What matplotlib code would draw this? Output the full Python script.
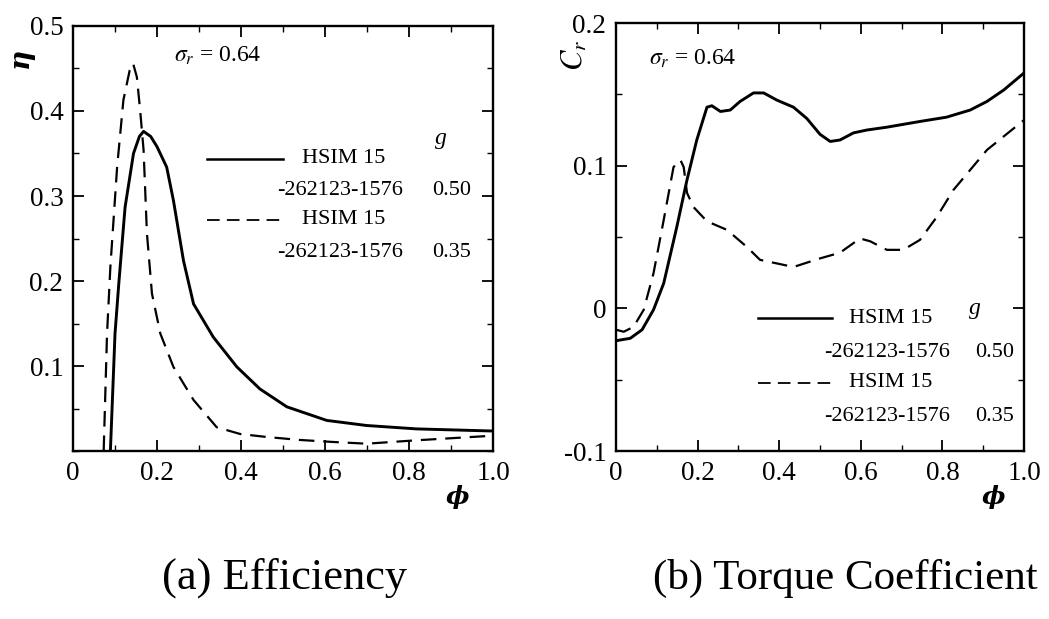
import matplotlib.pyplot as plt
from matplotlib.ticker import MultipleLocator

plt.rcParams['font.family'] = 'Liberation Serif'
plt.rcParams['mathtext.fontset'] = 'stix'

# (a) efficiency, g = 0.50 (solid)
phi_a1 = [0.089, 0.10, 0.109, 0.124, 0.144, 0.158, 0.168, 0.185, 0.20, 0.223, 0.239, 0.263,
          0.287, 0.334, 0.39, 0.445, 0.509, 0.604, 0.699, 0.818, 1.0]
eta_a1 = [0.0, 0.138, 0.197, 0.287, 0.35, 0.370, 0.376, 0.370, 0.358, 0.334, 0.295, 0.224,
          0.173, 0.134, 0.099, 0.073, 0.052, 0.036, 0.030, 0.026, 0.0235]
# (a) efficiency, g = 0.35 (dashed)
phi_a2 = [0.073, 0.081, 0.089, 0.105, 0.12, 0.135, 0.143, 0.152, 0.160, 0.168, 0.176, 0.188,
          0.208, 0.239, 0.287, 0.342, 0.398, 0.461, 0.54, 0.62, 0.699, 0.818, 1.0]
eta_a2 = [0.0, 0.138, 0.217, 0.334, 0.413, 0.448, 0.456, 0.44, 0.40, 0.354, 0.256, 0.185,
          0.138, 0.099, 0.060, 0.028, 0.020, 0.0165, 0.013, 0.0106, 0.0086, 0.0126, 0.018]

# (b) torque coefficient, g = 0.50 (solid)
phi_b1 = [0.0, 0.035, 0.064, 0.092, 0.117, 0.149, 0.174, 0.198, 0.223, 0.235, 0.256,
          0.280, 0.304, 0.337, 0.362, 0.394, 0.435, 0.468, 0.50, 0.525, 0.549, 0.582,
          0.615, 0.664, 0.745, 0.81, 0.868, 0.909, 0.95, 1.0]
ct_b1 = [-0.0227, -0.021, -0.015, -0.001, 0.0176, 0.057, 0.09, 0.118, 0.141, 0.142, 0.138,
         0.139, 0.145, 0.151, 0.151, 0.146, 0.141, 0.133, 0.122, 0.117, 0.118, 0.123,
         0.125, 0.127, 0.131, 0.134, 0.139, 0.145, 0.153, 0.165]
# (b) torque coefficient, g = 0.35 (dashed)
phi_b2 = [0.0, 0.019, 0.043, 0.068, 0.092, 0.117, 0.141, 0.158, 0.166, 0.174, 0.19,
          0.223, 0.272, 0.321, 0.353, 0.435, 0.50, 0.549, 0.598, 0.623, 0.664, 0.704,
          0.745, 0.786, 0.827, 0.909, 1.0]
ct_b2 = [-0.015, -0.0164, -0.013, -0.001, 0.0246, 0.062, 0.099, 0.104, 0.099, 0.081, 0.071,
         0.061, 0.055, 0.043, 0.034, 0.029, 0.035, 0.039, 0.049, 0.047, 0.041, 0.041,
         0.048, 0.064, 0.083, 0.111, 0.132]

name = 'HSIM 15'
code = '-262123-1576'
g_values = ['0.50', '0.35']

fig = plt.figure(figsize=(10.49, 6.19), dpi=100)
ax1 = fig.add_axes([0.0696, 0.2714, 0.4004, 0.6866])
ax2 = fig.add_axes([0.5872, 0.2714, 0.389, 0.6914])

dash = (0, (7, 4))
ax1.plot(phi_a1, eta_a1, color='black', lw=2.1)
ax1.plot(phi_a2, eta_a2, color='black', lw=1.6, linestyle=dash)
ax2.plot(phi_b1, ct_b1, color='black', lw=2.1)
ax2.plot(phi_b2, ct_b2, color='black', lw=1.6, linestyle=dash)

ax1.set_xlim(0, 1.0)
ax1.set_ylim(0, 0.5)
ax1.set_xticks([0, 0.2, 0.4, 0.6, 0.8, 1.0])
ax1.set_xticklabels(['0', '0.2', '0.4', '0.6', '0.8', '1.0'])
ax1.set_yticks([0.1, 0.2, 0.3, 0.4, 0.5])
ax1.set_yticklabels(['0.1', '0.2', '0.3', '0.4', '0.5'])

ax2.set_xlim(0, 1.0)
ax2.set_ylim(-0.1, 0.2)
ax2.set_xticks([0, 0.2, 0.4, 0.6, 0.8, 1.0])
ax2.set_xticklabels(['0', '0.2', '0.4', '0.6', '0.8', '1.0'])
ax2.set_yticks([-0.1, 0, 0.1, 0.2])
ax2.set_yticklabels(['-0.1', '0', '0.1', '0.2'])

for ax in (ax1, ax2):
    ax.xaxis.set_minor_locator(MultipleLocator(0.1))
    ax.yaxis.set_minor_locator(MultipleLocator(0.05))
    ax.tick_params(which='both', direction='in', top=True, right=True, labelsize=19.5)
    ax.tick_params(which='major', length=8, width=1.3, pad=7)
    ax.tick_params(which='minor', length=4, width=1.0)
    for s in ax.spines.values():
        s.set_linewidth(1.7)

# axis labels
fig.text(20 / 1049, 1 - 58 / 619, 'η', rotation=90, ha='center', va='center',
         fontsize=20, family='DejaVu Serif', weight='bold', style='italic')
fig.text(575 / 1049, 1 - 55 / 619, r'$C_r$', rotation=90, ha='center', va='center',
         fontsize=22)
fig.text(457 / 1049, 1 - 497 / 619, 'ϕ', ha='center', va='center',
         fontsize=18, family='DejaVu Serif', weight='bold', style='italic')
fig.text(993 / 1049, 1 - 497 / 619, 'ϕ', ha='center', va='center',
         fontsize=18, family='DejaVu Serif', weight='bold', style='italic')

# sigma annotation
ax1.text(0.24, 0.465, r'$\sigma_r$ = 0.64', fontsize=17, ha='left', va='center')
ax2.text(0.08, 0.175, r'$\sigma_r$ = 0.64', fontsize=17, ha='left', va='center')

# hand-made legends
def draw_legend(ax, x0, x1, xt, xc, xv, xg, ys, yg):
    ax.text(xg, yg, 'g', fontsize=17, style='italic', ha='center', va='center')
    for i, ls in enumerate(['-', dash]):
        y_line = ys[2 * i]
        y_code = ys[2 * i + 1]
        ax.plot([x0, x1], [y_line, y_line], color='black', lw=1.8 if i == 0 else 1.3,
                linestyle=ls)
        ax.text(xt, y_line, name, fontsize=16, ha='left', va='center')
        ax.text(xc, y_code, code, fontsize=16, ha='left', va='center')
        ax.text(xv, y_code, g_values[i], fontsize=16, ha='left', va='center')

draw_legend(ax1, 0.32, 0.50, 0.545, 0.487, 0.855, 0.875,
            [0.344, 0.306, 0.272, 0.234], 0.368)
draw_legend(ax2, 0.349, 0.53, 0.57, 0.51, 0.88, 0.88,
            [-0.0071, -0.031, -0.052, -0.076], 0.0)

fig.text(285 / 1049, 1 - 578 / 619, '(a) Efficiency', ha='center', va='center', fontsize=32)
fig.text(845 / 1049, 1 - 578 / 619, '(b) Torque Coefficient', ha='center', va='center',
         fontsize=31)

fig.savefig('out.png', dpi=100)
